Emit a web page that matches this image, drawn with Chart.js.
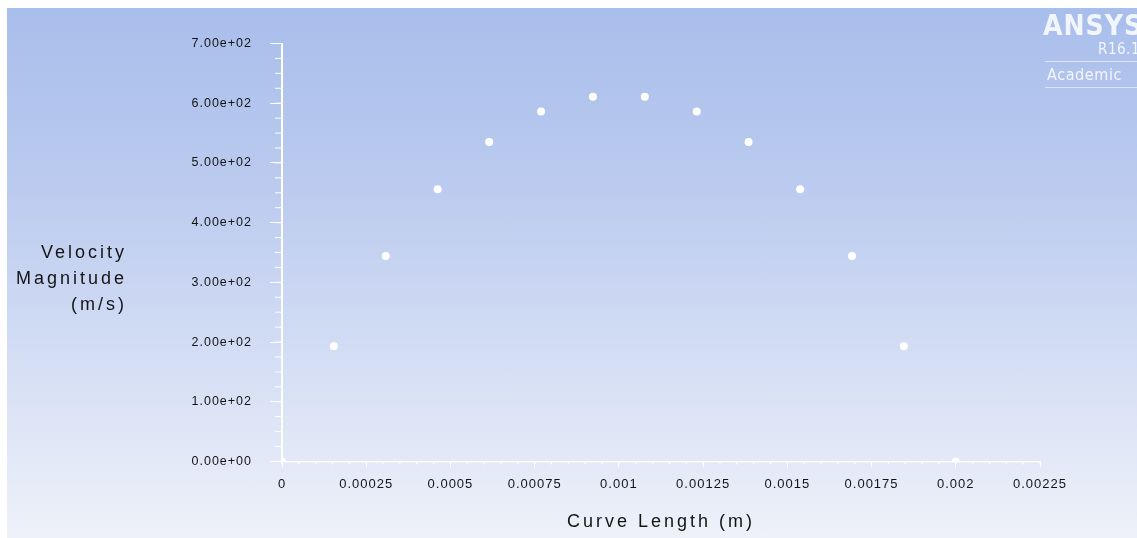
<!DOCTYPE html>
<html>
<head>
<meta charset="utf-8">
<script src="https://cdn.jsdelivr.net/npm/chart.js@4.4.1/dist/chart.umd.min.js"></script>
<style>
  html, body { margin: 0; padding: 0; background: #fff; overflow: hidden; }
  body { width: 1137px; height: 538px; position: relative; }
  #plot {
    position: absolute; left: 7px; top: 8px; width: 1130px; height: 530px;
    background: linear-gradient(to bottom, #a8beeb 0%, #bccbef 35%, #d3ddf4 65%, #eef1f9 100%);
  }
  .logo { position: absolute; color: rgba(255,255,255,0.85); font-family: "Liberation Sans Narrow", "DejaVu Sans Condensed", "Liberation Sans", sans-serif; white-space: nowrap; }
  #ansys { left: 1043px; top: 9px; font-size: 28px; font-weight: bold; letter-spacing: 1px; }
  #rel { right: -3px; top: 40px; font-size: 15px; letter-spacing: 0.5px; }
  #acad { left: 1047px; top: 65px; font-size: 16px; letter-spacing: 0.6px; }
  .rule { position: absolute; left: 1045px; width: 92px; height: 1px; background: rgba(255,255,255,0.55); }
</style>
</head>
<body>
<div id="plot"><canvas id="chart"></canvas></div>
<div class="logo" id="ansys">ANSYS</div>
<div class="logo" id="rel">R16.1</div>
<div class="rule" style="top:61px"></div>
<div class="logo" id="acad">Academic</div>
<div class="rule" style="top:87px"></div>
<script>
// ─── Data ────────────────────────────────────────────────────────────────────

const CURVE_LENGTH = [0, 0.000154, 0.000308, 0.000462, 0.000615, 0.000769, 0.000923,
                      0.001077, 0.001231, 0.001385, 0.001538, 0.001692, 0.001846, 0.002];
const VELOCITY     = [0, 193, 344, 456, 535, 586, 611, 611, 586, 535, 456, 344, 193, 0];

const X_TICKS        = [0, 0.00025, 0.0005, 0.00075, 0.001, 0.00125, 0.0015, 0.00175, 0.002, 0.00225];
const X_TICK_LABELS  = ['0', '0.00025', '0.0005', '0.00075', '0.001', '0.00125', '0.0015', '0.00175', '0.002', '0.00225'];
const Y_TICKS        = [0, 100, 200, 300, 400, 500, 600, 700];
const Y_TICK_LABELS  = ['0.00e+00', '1.00e+02', '2.00e+02', '3.00e+02', '4.00e+02', '5.00e+02', '6.00e+02', '7.00e+02'];
const X_MINOR_STEP   = 0.00005;
const Y_MINOR_STEP   = 25;

const X_TITLE = 'Curve Length (m)';
const Y_TITLE = ['Velocity', 'Magnitude', '(m/s)'];

const COLORS = {
  axis:  '#ffffff',
  text:  '#141414',
  point: '#ffffff',
};
const FONT = '"Liberation Sans", Arial, sans-serif';

// ─── Plugins ────────────────────────────────────────────────────────────────

// spaced-out lettering like the Fluent plot
const spacing = {
  id: 'spacing',
  beforeDraw(chart) { chart.ctx.letterSpacing = '1px'; },
  afterDraw(chart) { chart.ctx.letterSpacing = '0px'; },
};

// minor tick marks between the labelled ones
const minorTicks = {
  id: 'minorTicks',
  afterDatasetsDraw(chart) {
    const { ctx, scales: { x, y } } = chart;
    ctx.save();
    ctx.strokeStyle = COLORS.axis;
    ctx.lineWidth = 1;
    ctx.beginPath();
    const nx = Math.round(x.max / X_MINOR_STEP);
    for (let i = 0; i <= nx; i++) {
      const px = x.getPixelForValue(i * X_MINOR_STEP);
      ctx.moveTo(px, y.bottom);
      ctx.lineTo(px, y.bottom + 3);
    }
    const ny = Math.round(y.max / Y_MINOR_STEP);
    for (let i = 0; i <= ny; i++) {
      const py = y.getPixelForValue(i * Y_MINOR_STEP);
      ctx.moveTo(x.left, py);
      ctx.lineTo(x.left - 7, py);
    }
    ctx.stroke();
    ctx.restore();
  },
};

// horizontal axis titles (y title is not rotated)
const axisTitles = {
  id: 'axisTitles',
  afterDraw(chart) {
    const { ctx, chartArea, scales: { y } } = chart;
    ctx.save();
    ctx.letterSpacing = '3px';
    ctx.fillStyle = COLORS.text;
    ctx.font = '18px ' + FONT;
    ctx.textBaseline = 'middle';
    ctx.textAlign = 'center';
    ctx.fillText(X_TITLE, (chartArea.left + chartArea.right) / 2, chartArea.bottom + 61);
    ctx.textAlign = 'right';
    const mid = y.getPixelForValue(300) - 3;
    Y_TITLE.forEach((line, i) => {
      ctx.fillText(line, 120, mid + (i - 1) * 26);
    });
    ctx.restore();
  },
};

// ─── Chart ──────────────────────────────────────────────────────────────────

new Chart(document.getElementById('chart'), {
  type: 'scatter',
  data: {
    datasets: [{
      data: CURVE_LENGTH.map((x, i) => ({ x, y: VELOCITY[i] })),
      pointRadius: 4,
      pointHoverRadius: 4,
      pointBackgroundColor: COLORS.point,
      pointBorderWidth: 0,
      showLine: false,
    }],
  },
  options: {
    responsive: true,
    maintainAspectRatio: false,
    animation: false,
    layout: { padding: { left: 0, top: 35.5, right: 97, bottom: 0 } },
    plugins: { legend: { display: false }, tooltip: { enabled: false } },
    scales: {
      x: {
        type: 'linear',
        min: 0,
        max: 0.00225,
        afterBuildTicks: s => { s.ticks = X_TICKS.map(v => ({ value: v })); },
        afterFit: s => { s.height = 76.5; },
        ticks: {
          autoSkip: false,
          maxRotation: 0,
          padding: 9,
          color: COLORS.text,
          font: { family: FONT, size: 13 },
          callback: (v, i) => X_TICK_LABELS[i],
        },
        grid: { drawOnChartArea: false, tickLength: 6, tickColor: COLORS.axis, tickWidth: 1 },
        border: { color: COLORS.axis, width: 1.5 },
      },
      y: {
        type: 'linear',
        min: 0,
        max: 700,
        afterBuildTicks: s => { s.ticks = Y_TICKS.map(v => ({ value: v })); },
        afterFit: s => { s.width = 275; },
        ticks: {
          autoSkip: false,
          padding: 18,
          color: COLORS.text,
          font: { family: FONT, size: 12.5 },
          callback: (v, i) => Y_TICK_LABELS[i],
        },
        grid: { drawOnChartArea: false, tickLength: 12, tickColor: COLORS.axis, tickWidth: 1 },
        border: { color: COLORS.axis, width: 2 },
      },
    },
  },
  plugins: [spacing, minorTicks, axisTitles],
});
</script>
</body>
</html>
